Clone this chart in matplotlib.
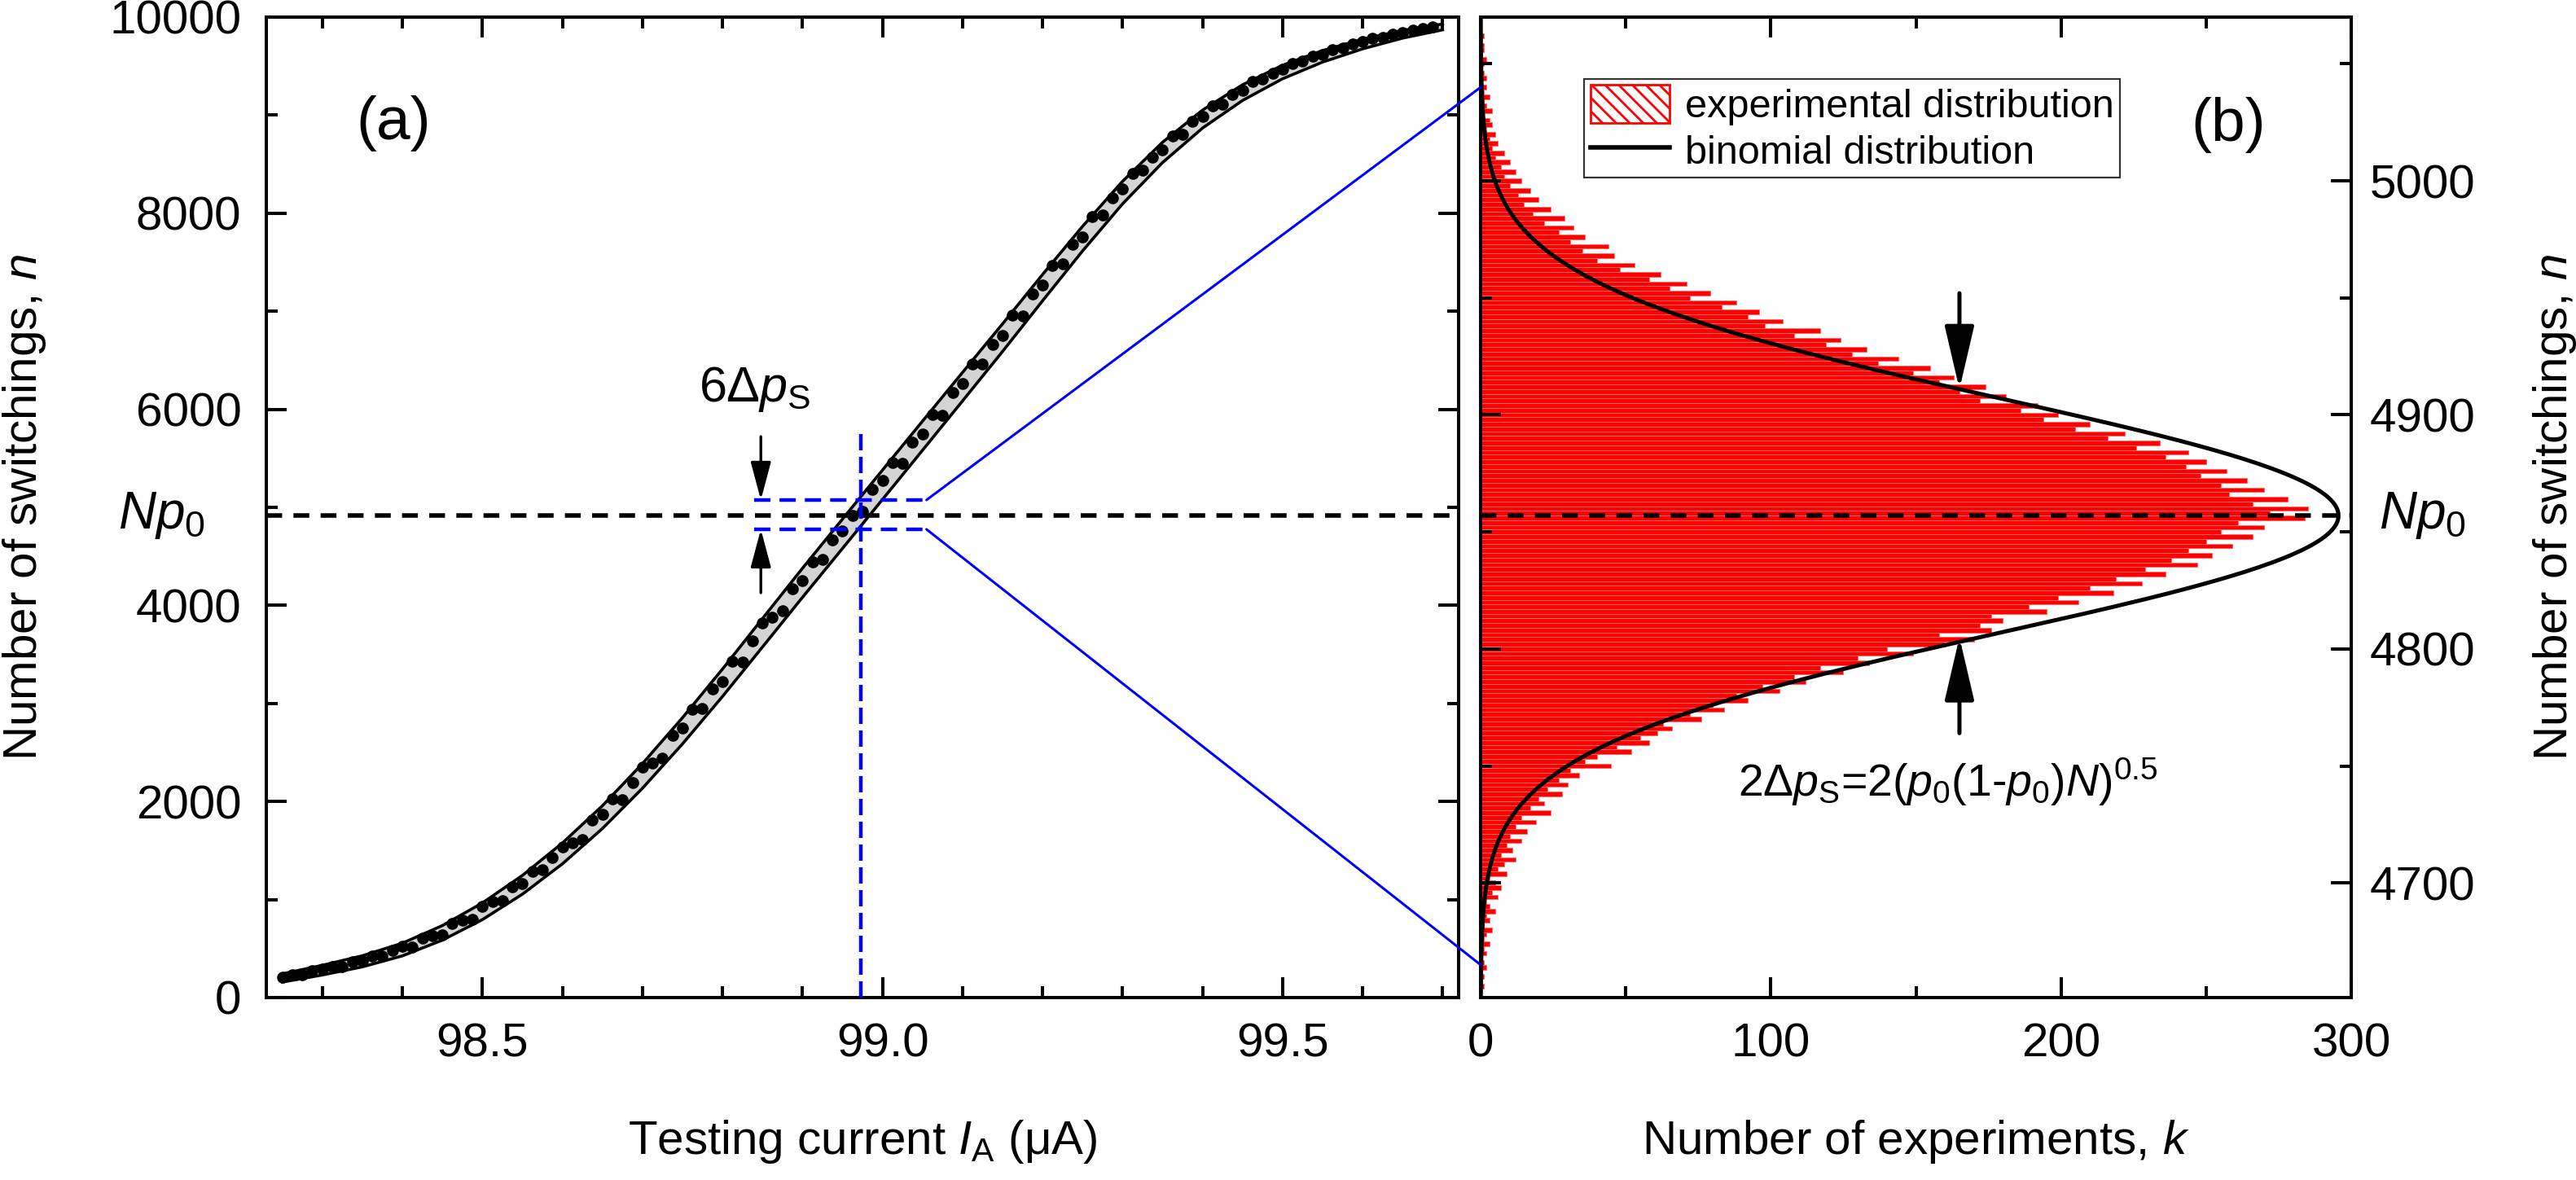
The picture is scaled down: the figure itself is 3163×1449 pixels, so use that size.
import math

import matplotlib

matplotlib.use("Agg")
import matplotlib.pyplot as plt
import numpy as np
from matplotlib.lines import Line2D
from matplotlib.patches import ConnectionPatch, Patch
from matplotlib.ticker import MultipleLocator

plt.rcParams["font.family"] = ["Liberation Sans", "DejaVu Sans"]
plt.rcParams["mathtext.fontset"] = "custom"
plt.rcParams["mathtext.rm"] = "Liberation Sans"
plt.rcParams["mathtext.it"] = "Liberation Sans:italic"
plt.rcParams["mathtext.bf"] = "Liberation Sans:bold"
plt.rcParams["hatch.linewidth"] = 2.0

# --- panel (a): switchings vs testing current ---
current = [
    98.2500, 98.2625, 98.2750, 98.2875, 98.3000, 98.3125, 98.3250, 98.3375,
    98.3500, 98.3625, 98.3750, 98.3875, 98.4000, 98.4125, 98.4250, 98.4375,
    98.4500, 98.4625, 98.4750, 98.4875, 98.5000, 98.5125, 98.5250, 98.5375,
    98.5500, 98.5625, 98.5750, 98.5875, 98.6000, 98.6125, 98.6250, 98.6375,
    98.6500, 98.6625, 98.6750, 98.6875, 98.7000, 98.7125, 98.7250, 98.7375,
    98.7500, 98.7625, 98.7750, 98.7875, 98.8000, 98.8125, 98.8250, 98.8375,
    98.8500, 98.8625, 98.8750, 98.8875, 98.9000, 98.9125, 98.9250, 98.9375,
    98.9500, 98.9625, 98.9750, 98.9875, 99.0000, 99.0125, 99.0250, 99.0375,
    99.0500, 99.0625, 99.0750, 99.0875, 99.1000, 99.1125, 99.1250, 99.1375,
    99.1500, 99.1625, 99.1750, 99.1875, 99.2000, 99.2125, 99.2250, 99.2375,
    99.2500, 99.2625, 99.2750, 99.2875, 99.3000, 99.3125, 99.3250, 99.3375,
    99.3500, 99.3625, 99.3750, 99.3875, 99.4000, 99.4125, 99.4250, 99.4375,
    99.4500, 99.4625, 99.4750, 99.4875, 99.5000, 99.5125, 99.5250, 99.5375,
    99.5500, 99.5625, 99.5750, 99.5875, 99.6000, 99.6125, 99.6250, 99.6375,
    99.6500, 99.6625, 99.6750, 99.6875,
]
switchings = [
    205, 230, 235, 272, 288, 317, 319, 368,
    375, 422, 420, 485, 520, 517, 610, 628,
    640, 755, 790, 800, 930, 978, 985, 1127,
    1160, 1290, 1300, 1430, 1540, 1582, 1615, 1808,
    1870, 2025, 2020, 2195, 2350, 2395, 2440, 2675,
    2750, 2942, 2945, 3148, 3220, 3428, 3425, 3642,
    3820, 3878, 3945, 4172, 4250, 4445, 4470, 4665,
    4760, 4915, 4960, 5185, 5270, 5455, 5450, 5665,
    5750, 5945, 5940, 6175, 6260, 6465, 6460, 6665,
    6750, 6958, 6955, 7172, 7270, 7465, 7480, 7685,
    7760, 7968, 7985, 8152, 8250, 8402, 8435, 8568,
    8650, 8785, 8800, 8935, 8990, 9098, 9115, 9212,
    9250, 9342, 9365, 9428, 9470, 9530, 9550, 9600,
    9620, 9671, 9682, 9724, 9750, 9780, 9795, 9825,
    9845, 9869, 9882, 9901,
]

# fitted curve through the points
fit_current = [98.25, 98.30, 98.35, 98.40, 98.45, 98.50, 98.55, 98.60, 98.65, 98.70,
               98.75, 98.80, 98.85, 98.90, 98.95, 99.00, 99.05, 99.10, 99.15, 99.20,
               99.25, 99.30, 99.35, 99.40, 99.45, 99.50, 99.55, 99.60, 99.65, 99.70]
fit_switchings = [200, 280, 370, 490, 660, 880, 1150, 1470, 1840, 2260,
                  2720, 3210, 3720, 4230, 4730, 5230, 5730, 6230, 6730, 7240,
                  7740, 8210, 8620, 8960, 9230, 9440, 9600, 9725, 9825, 9900]

N_TOTAL = 10000
NP0_A = 4920          # Np0 level as drawn on the left scale
I_SET = 98.973        # current of the blue vertical marker
BAND_LO, BAND_HI = 4776, 5075   # 6 dp_S window
ZOOM_LO, ZOOM_HI = 4665, 5040   # where the window maps onto panel (b)

# --- panel (b): histogram of switchings ---
hist_start = 4656
hist_width = 2
hist_counts = [
    1, 0, 1, 0, 2, 1, 0, 2, 1, 3,
    1, 2, 4, 1, 3, 2, 5, 3, 2, 6,
    4, 7, 5, 3, 9, 6, 8, 12, 7, 11,
    9, 14, 10, 16, 12, 19, 14, 24, 17, 22,
    20, 28, 23, 30, 27, 34, 31, 45, 36, 40,
    52, 47, 58,
    55, 61, 66, 63, 76, 72, 84, 80, 92, 88,
    103, 97, 112, 108, 125, 117, 134, 130, 149, 140,
    160, 170, 158, 176, 172,
    180, 176, 195, 189, 206, 199, 218, 210, 228, 219,
    236, 229, 247, 238, 252, 244, 259, 250, 266, 255,
    270, 261, 284,
    272, 285, 266, 278, 258, 270, 255, 264, 248, 257,
    243, 250, 236, 244, 226, 234, 216, 222, 205, 210,
    194, 199,
    186, 192, 172, 181, 165, 174, 158, 163, 149, 155,
    137, 144, 128, 133, 119, 124, 108, 117, 98, 104,
    92, 96, 83, 88, 72, 79, 65, 71, 58, 62,
    48, 53, 40, 46, 35, 44, 31, 36, 27, 32,
    22, 29, 18, 24, 15, 20, 13, 17, 10, 14,
    8, 12, 7, 10, 5, 8, 4, 6, 3, 5,
    2, 4, 3, 1, 4, 2, 1, 3, 1, 2,
    0, 2, 1, 0, 1, 2, 0, 1, 1, 0,
    1, 0,
]
P0 = 0.4857

fig = plt.figure(figsize=(31.63, 14.49), dpi=100)
W, H = 3163, 1449
ax_a = fig.add_axes([327 / W, 1 - 1225 / H, (1791 - 327) / W, (1225 - 21) / H])
ax_b = fig.add_axes([1818 / W, 1 - 1225 / H, (2887 - 1818) / W, (1225 - 21) / H])

for ax in (ax_a, ax_b):
    for sp in ax.spines.values():
        sp.set_linewidth(2.9)
    ax.tick_params(which="both", direction="in", top=True, bottom=True,
                   left=True, right=True, width=2.9, labelsize=42)
    ax.tick_params(which="major", length=18, pad=22)
    ax.tick_params(which="minor", length=10)

# ---------- (a) ----------
fit_n = np.array(fit_switchings, dtype=float)
sig = np.sqrt(fit_n * (1 - fit_n / N_TOTAL))
upper = fit_n + 3 * sig
lower = fit_n - 3 * sig
ax_a.fill_between(fit_current, lower, upper, color="#d4d4d4", lw=0, zorder=1)
ax_a.plot(fit_current, upper, color="k", lw=2.6, zorder=2)
ax_a.plot(fit_current, lower, color="k", lw=2.6, zorder=2)
ax_a.plot(current, switchings, "o", color="k", ms=9.5, zorder=4)

ax_a.axhline(NP0_A, color="k", lw=4, ls=(0, (3.5, 2.5)), zorder=5)
ax_a.plot([I_SET, I_SET], [0, 5770], color="blue", lw=3.2,
          ls=(0, (4.5, 1.8)), zorder=5)
for lvl in (BAND_LO, BAND_HI):
    ax_a.plot([98.84, 99.055], [lvl, lvl], color="blue", lw=3.2,
              ls=(0, (4.5, 2.5)), zorder=5)

arrow_kw = dict(arrowstyle="-|>,head_length=0.9,head_width=0.24",
                color="k", lw=2.4, mutation_scale=32, shrinkA=0, shrinkB=0)
ax_a.annotate("", xy=(98.848, BAND_HI), xytext=(98.848, 5722), arrowprops=arrow_kw)
ax_a.annotate("", xy=(98.848, BAND_LO), xytext=(98.848, 4128), arrowprops=arrow_kw)
ax_a.text(98.84, 6204, r"6$\Delta p_\mathrm{S}$", fontsize=44,
          ha="center", va="center")
ax_a.text(98.389, 8920, "(a)", fontsize=54, ha="center", va="center")
ax_a.text(-0.088, NP0_A, r"$Np_0$", fontsize=46, ha="center", va="center",
          transform=ax_a.get_yaxis_transform())

ax_a.set_xlim(98.23, 99.72)
ax_a.set_ylim(0, 10000)
ax_a.xaxis.set_major_locator(MultipleLocator(0.5))
ax_a.xaxis.set_minor_locator(MultipleLocator(0.1))
ax_a.yaxis.set_major_locator(MultipleLocator(2000))
ax_a.yaxis.set_minor_locator(MultipleLocator(1000))
ax_a.set_xlabel(r"Testing current $I_\mathrm{A}$ (μA)", fontsize=42)
ax_a.set_ylabel(r"Number of switchings, $n$", fontsize=42)
ax_a.xaxis.set_label_coords(0.5, -0.147)
ax_a.xaxis.label.set_va("center")
ax_a.yaxis.set_label_coords(-0.203, 0.5)
ax_a.yaxis.label.set_va("center")

# ---------- (b) ----------
centers = hist_start + hist_width * np.arange(len(hist_counts))
ax_b.barh(centers, hist_counts, height=hist_width, color="red",
          edgecolor="#ff6a6a", linewidth=0.7, zorder=1)

n_grid = np.arange(4640, 5080)
log_pmf = np.array([math.lgamma(N_TOTAL + 1) - math.lgamma(k + 1) - math.lgamma(N_TOTAL - k + 1)
                    + k * math.log(P0) + (N_TOTAL - k) * math.log(1 - P0) for k in n_grid])
k_curve = sum(hist_counts) * hist_width * np.exp(log_pmf)
ax_b.plot(k_curve, n_grid, color="k", lw=3.6, zorder=3)

np0_b = N_TOTAL * P0
ax_b.axhline(np0_b, color="k", lw=4, ls=(0, (3.5, 2.5)), zorder=4)

big_arrow = dict(arrowstyle="-|>,head_length=1.2,head_width=0.28",
                 color="k", lw=3.6, mutation_scale=40, shrinkA=0, shrinkB=0)
ax_b.annotate("", xy=(165, 4911), xytext=(165, 4952), arrowprops=big_arrow)
ax_b.annotate("", xy=(165, 4805), xytext=(165, 4764), arrowprops=big_arrow)
ax_b.text(161, 4743, r"2$\Delta p_\mathrm{S}$=2($p_0$(1-$p_0$)$N$)$^{0.5}$",
          fontsize=40, ha="center", va="center")
ax_b.text(257.6, 5024, "(b)", fontsize=54, ha="center", va="center")
ax_b.text(1.082, np0_b, r"$Np_0$", fontsize=46, ha="center", va="center",
          transform=ax_b.get_yaxis_transform())

ax_b.set_xlim(0, 300)
ax_b.set_ylim(4651, 5070)
ax_b.xaxis.set_major_locator(MultipleLocator(100))
ax_b.xaxis.set_minor_locator(MultipleLocator(50))
ax_b.yaxis.set_major_locator(MultipleLocator(100))
ax_b.yaxis.set_minor_locator(MultipleLocator(50))
ax_b.tick_params(labelleft=False, labelright=True)
ax_b.tick_params(axis="y", which="major", pad=16)
ax_b.set_xlabel(r"Number of experiments, $k$", fontsize=42)
ax_b.set_ylabel(r"Number of switchings, $n$", fontsize=42)
ax_b.yaxis.set_label_position("right")
ax_b.xaxis.set_label_coords(0.5, -0.147)
ax_b.xaxis.label.set_va("center")
ax_b.yaxis.set_label_coords(1.234, 0.5)
ax_b.yaxis.label.set_va("center")
ax_b.yaxis.label.set_rotation(90)

handles = [
    Patch(facecolor="white", edgecolor="red", hatch="\\\\", lw=2,
          label="experimental distribution"),
    Line2D([], [], color="k", lw=4, label="binomial distribution"),
]
leg = ax_b.legend(handles=handles, loc="upper left", bbox_to_anchor=(0.119, 0.937),
                  borderaxespad=0, fontsize=35, frameon=True, fancybox=False,
                  handlelength=2.0, handleheight=1.1, handletextpad=0.4,
                  borderpad=0.15, labelspacing=0.15)
leg.get_frame().set_edgecolor("k")
leg.get_frame().set_linewidth(1.6)

# zoom lines from the 6 dp_S window in (a) to panel (b)
for ya, yb in ((BAND_HI, ZOOM_HI), (BAND_LO, ZOOM_LO)):
    con = ConnectionPatch(xyA=(99.055, ya), coordsA=ax_a.transData,
                          xyB=(0, yb), coordsB=ax_b.transData,
                          color="blue", lw=2.2, zorder=6)
    fig.add_artist(con)

fig.savefig("out.png", dpi=100)
